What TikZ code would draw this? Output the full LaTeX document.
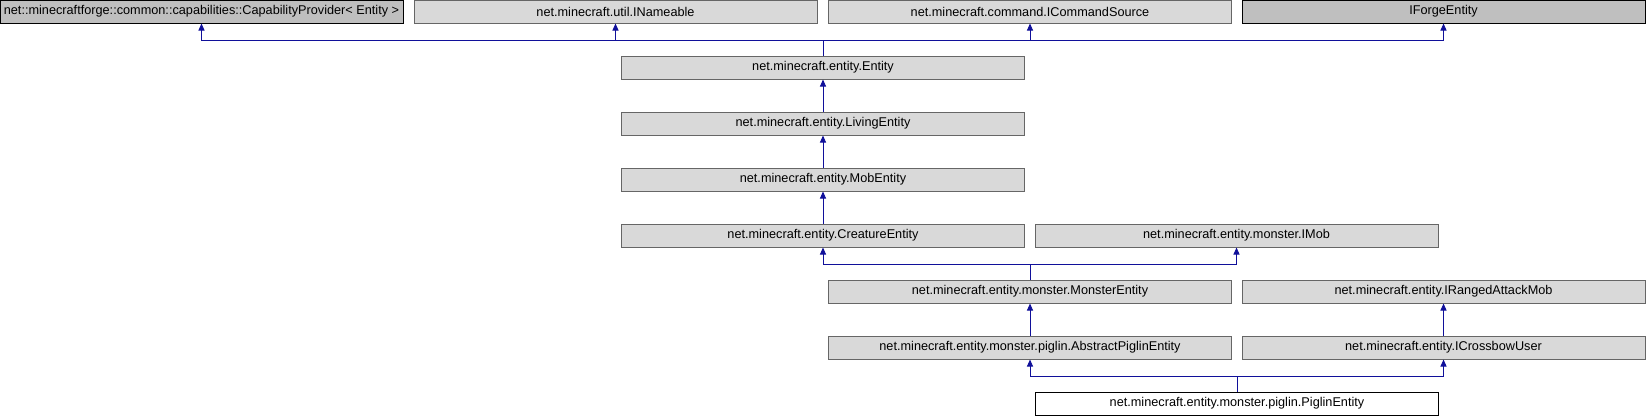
\documentclass[tikz,border=0pt]{standalone}
\usepackage{fontspec}
\setmainfont{Liberation Sans}
\usetikzlibrary{arrows.meta}
\definecolor{edgeblue}{HTML}{10109A}
\definecolor{lightfill}{HTML}{D9D9D9}
\definecolor{darkfill}{HTML}{BFBFBF}
\definecolor{graybord}{HTML}{666666}
\tikzset{
  cls/.style={rectangle, minimum width=403pt, minimum height=23pt, inner sep=0pt,
     font=\fontsize{12.7}{15}\selectfont, line width=1pt},
  lbox/.style={cls, draw=graybord, fill=lightfill},
  dbox/.style={cls, draw=black, fill=darkfill},
  wbox/.style={cls, draw=black, fill=white},
  inh/.style={draw=edgeblue, line width=1pt, -{Triangle[width=6pt,length=7pt]}},
}
\begin{document}
\begin{tikzpicture}[x=1pt,y=-1pt]
\useasboundingbox (0,0) rectangle (1646,416);
\node[dbox] (cap) at (201.5,11.5) {net::minecraftforge::common::capabilities::CapabilityProvider< Entity >};
\node[lbox] (nam) at (615.5,11.5) {net.minecraft.util.INameable};
\node[lbox] (cmd) at (1030,11.5) {net.minecraft.command.ICommandSource};
\node[dbox] (ife) at (1443.5,11.5) {IForgeEntity};
\node[lbox] (ent) at (823,67.5) {net.minecraft.entity.Entity};
\node[lbox] (liv) at (823,123.5) {net.minecraft.entity.LivingEntity};
\node[lbox] (mob) at (823,179.5) {net.minecraft.entity.MobEntity};
\node[lbox] (cre) at (823,235.5) {net.minecraft.entity.CreatureEntity};
\node[lbox] (imob) at (1236.5,235.5) {net.minecraft.entity.monster.IMob};
\node[lbox] (mon) at (1030,291.5) {net.minecraft.entity.monster.MonsterEntity};
\node[lbox] (ira) at (1443.5,291.5) {net.minecraft.entity.IRangedAttackMob};
\node[lbox] (abs) at (1030,347.5) {net.minecraft.entity.monster.piglin.AbstractPiglinEntity};
\node[lbox] (icb) at (1443.5,347.5) {net.minecraft.entity.ICrossbowUser};
\node[wbox] (pig) at (1237,403.5) {net.minecraft.entity.monster.piglin.PiglinEntity};
\coordinate (j1) at (0,40);
\coordinate (j2) at (0,264);
\coordinate (j3) at (0,376);
% Entity -> row 1
\draw[inh] (ent.north) -- (ent.north |- j1) -| (cap.south);
\draw[inh] (ent.north) -- (ent.north |- j1) -| (nam.south);
\draw[inh] (ent.north) -- (ent.north |- j1) -| (cmd.south);
\draw[inh] (ent.north) -- (ent.north |- j1) -| (ife.south);
\draw[inh] (liv) -- (ent);
\draw[inh] (mob) -- (liv);
\draw[inh] (cre) -- (mob);
\draw[inh] (mon.north) -- (mon.north |- j2) -| (cre.south);
\draw[inh] (mon.north) -- (mon.north |- j2) -| (imob.south);
\draw[inh] (abs) -- (mon);
\draw[inh] (icb) -- (ira);
\draw[inh] (pig.north) -- (pig.north |- j3) -| (abs.south);
\draw[inh] (pig.north) -- (pig.north |- j3) -| (icb.south);
\end{tikzpicture}
\end{document}
